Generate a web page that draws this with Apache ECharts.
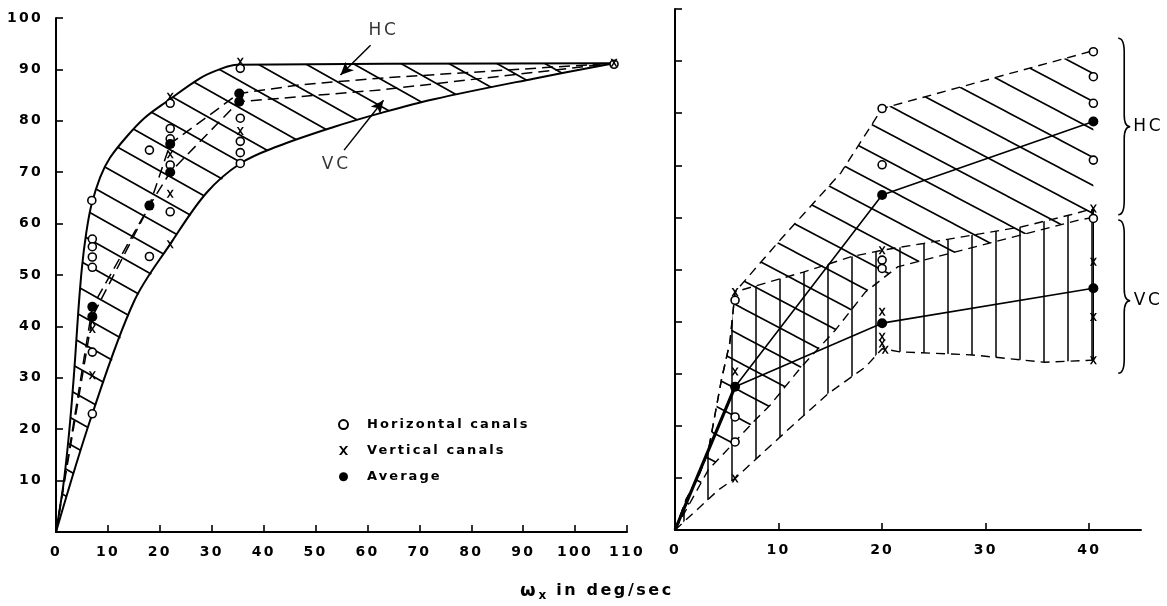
<!DOCTYPE html>
<html><head><meta charset="utf-8">
<script src="https://cdn.jsdelivr.net/npm/echarts@6/dist/echarts.min.js"></script>
<style>html,body{margin:0;padding:0;background:#fff}#c{width:1167px;height:606px}</style>
</head><body><div id="c"></div>
<script>
// ---------- LEFT PANEL DATA (x: omega deg/sec, y: percent) ----------
var leftUpper = [[0,0],[1.4,9],[2.4,18],[3.1,26],[3.7,34],[4.3,43],[5,51.5],[5.8,58],[6.8,63.5],[8.5,69],[10.4,72.8],[13.6,76.9],[17,80.5],[21.4,83.8],[27.8,88.3],[31.5,90],[34.9,90.9],[107.5,91.2]];
var leftLower = [[0,0],[7,23],[15,44.8],[22,56],[29,66],[35.5,71.7],[42.6,75],[53.5,78.8],[62.5,81.5],[72.8,84.2],[92,88.2],[107.5,91.2]];
var leftDashHC = [[0,0],[7,43.8],[18,63.5],[22,75.5],[35.2,85.3],[47,87],[62.5,88.3],[107.5,91.2]];
var leftDashVC = [[0,0],[7,41.9],[18,63.5],[22,70],[35.2,83.7],[47,84.7],[62.5,86],[107.5,91.2]];
var leftHC = [[6.9,64.5],[7,57],[7,55.5],[7,53.5],[7,51.5],[7,35],[7,23],[18,74.3],[18,53.6],[22,83.4],[22,78.5],[22,76.5],[22,71.4],[22,62.3],[35.5,90.2],[35.5,80.5],[35.5,76],[35.5,73.8],[35.5,71.7],[107.5,91]];
var leftVC = [[7,41],[7,39.5],[7,30.5],[18,63.5],[22,84.7],[22,75.5],[22,73.5],[22,65.8],[22,56],[35.5,91.5],[35.5,84],[35.5,78],[107.5,91.3]];
var leftAvg = [[7,43.8],[7,41.9],[18,63.5],[22,70],[22,75.5],[35.3,85.3],[35.3,83.7]];
var leftArrowHC = [[60.6,94.7],[54.8,88.9]];
var leftArrowVC = [[55.5,74.3],[63.1,84]];
var leftNotes = [[63.1,97.5,'HC'],[54,71.4,'VC']];

// ---------- RIGHT PANEL DATA ----------
var rightXTicks = [0,10,20,30,40];
var rightHCUpper = [[0,0],[1.1,6],[2.2,10],[3.2,15],[4.5,29],[5.3,36],[5.8,45.7],[10.3,56],[16,68.5],[20,80.9],[40.4,92]];
var rightHCLower = [[0,0],[3.2,11.5],[7.7,21],[9.2,24],[12.2,31.3],[15.5,38.4],[18.4,45.7],[21.5,50.5],[39,59.5],[40.4,60]];
var rightVCUpper = [[0,0],[1.1,6],[2.2,10],[3.2,15],[4.5,29],[5.3,36],[5.8,45.7],[12.4,49.5],[17.1,52.5],[20,53.7],[24,55],[28.7,56.6],[33.5,58.2],[38.2,60.5],[40.4,61.7]];
var rightVCLower = [[0,0],[4.2,7.7],[5.8,9.9],[7.7,13.4],[11.6,20.5],[14.8,26.2],[18.4,31.3],[20,34.8],[21.7,34.2],[28.7,33.6],[35.7,32.2],[40.4,32.6]];
var rightVCEdge = [[40.4,61.7],[40.4,32.6]];
var rightHC = [[5.8,44.1],[5.8,21.7],[5.8,16.9],[20,80.9],[20,70.1],[20,51.8],[20,50.2],[40.4,91.8],[40.4,87],[40.4,81.9],[40.4,71],[40.4,59.8]];
var rightVC = [[5.8,45.7],[5.8,30.4],[5.8,9.9],[20,53.7],[20,41.9],[20,37.1],[20,35.8],[20.3,34.6],[40.4,61.7],[40.4,51.5],[40.4,40.9],[40.4,32.6]];
var rightAvg = [[5.8,27.5],[20,64.3],[20,39.7],[40.4,78.4],[40.4,46.4]];
var rightAvgHC = [[0,0],[5.8,27.5],[20,64.3],[40.4,78.4]];
var rightAvgVC = [[0,0],[5.8,27.5],[20,39.7],[40.4,46.4]];
var rightShared = [[0,0],[5.8,27.5]];
var braceNames = ['HC','VC'];
var braceTop = [94.4,59.5];
var braceBottom = [60.5,30.1];
var braceTip = [77.4,44];
var braceX = 42.8;

// ---------- text letter spacing (rendering tweak only) ----------
(function(){
  var P = window.CanvasRenderingContext2D && CanvasRenderingContext2D.prototype;
  if(!P || !('letterSpacing' in P)) return;
  function ls(ctx){ var m=/(\d+(?:\.\d+)?)px/.exec(ctx.font); var s=m?parseFloat(m[1]):12; ctx.letterSpacing=(s*0.16).toFixed(2)+'px'; }
  var f=P.fillText, m=P.measureText, st=P.strokeText;
  P.fillText=function(){ls(this); return f.apply(this,arguments);};
  P.strokeText=function(){ls(this); return st.apply(this,arguments);};
  P.measureText=function(){ls(this); return m.apply(this,arguments);};
})();

var FONT = "'DejaVu Sans', sans-serif";
function makeHatch(w,h,lw,vertical){
  var c=document.createElement('canvas'); c.width=w; c.height=h;
  var g=c.getContext('2d'); g.strokeStyle='#000'; g.lineWidth=lw; g.beginPath();
  if(vertical){ g.moveTo(w/2,0); g.lineTo(w/2,h); }
  else { for(var i=-1;i<=1;i++) for(var j=-1;j<=1;j++){ g.moveTo(i*w,j*h); g.lineTo(i*w+w,j*h+h);} }
  g.stroke(); return c;
}
var hatchLeft = makeHatch(48,27,1.7,false);
var hatchRight = makeHatch(53,28,1.6,false);
var hatchVert = makeHatch(24,10,1.5,true);

function region(grid, upper, lower, img){
  return {type:'custom', xAxisIndex:grid, yAxisIndex:grid, silent:true, z:1, data:[[0,0]],
    renderItem:function(p, api){
      var pts = upper.concat(lower.slice().reverse()).map(function(d){return api.coord(d);});
      return {type:'polygon', shape:{points:pts}, style:{fill:{image:img, repeat:'repeat'}, stroke:null}};
    }};
}
function line(grid, data, width, dash, smooth){
  return {type:'line', xAxisIndex:grid, yAxisIndex:grid, data:data, symbol:'none', silent:true, z:3,
    smooth:smooth||false, lineStyle:{color:'#000', width:width, type:dash||'solid'}};
}
var XSYM = 'path://M0,0L3,0L6,4L9,0L12,0L7.5,6L12,12L9,12L6,8L3,12L0,12L4.5,6Z';
function scat(grid, name, data, kind){
  var s = {type:'scatter', name:name, xAxisIndex:grid, yAxisIndex:grid, data:data, silent:true, z:5};
  if(kind==='o'){ s.symbol='circle'; s.symbolSize=8; s.itemStyle={color:'#fff', borderColor:'#000', borderWidth:1.6, opacity:1}; }
  else if(kind==='x'){ s.symbol=XSYM; s.symbolSize=[7,8]; s.itemStyle={color:'#000', opacity:1}; }
  else { s.symbol='circle'; s.symbolSize=10; s.itemStyle={color:'#000', opacity:1}; }
  return s;
}
var tickLbl = {color:'#000', fontFamily:FONT, fontWeight:'bold', fontSize:14};
function axisCommon(){
  return {axisLine:{lineStyle:{color:'#000', width:2}}, axisTick:{inside:true, length:7, lineStyle:{color:'#000', width:1.6}}, splitLine:{show:false}};
}

var xL = Object.assign(axisCommon(), {gridIndex:0, type:'value', min:0, max:110, interval:10,
  axisLabel:Object.assign({margin:12}, tickLbl)});
var yL = Object.assign(axisCommon(), {gridIndex:0, type:'value', min:0, max:100, interval:10,
  axisLabel:Object.assign({margin:13, formatter:function(v){return v===0?'':String(v);}}, tickLbl)});
var xR = Object.assign(axisCommon(), {gridIndex:1, type:'value', min:0, max:45,
  axisLabel:Object.assign({margin:12, customValues:rightXTicks}, tickLbl)});
xR.axisTick.customValues = rightXTicks;
var yR = Object.assign(axisCommon(), {gridIndex:1, type:'value', min:0, max:100, interval:10, axisLabel:{show:false}});

var dashL = [11,6], dashR = [9,6];
var series = [
  region(0, leftUpper, leftLower, hatchLeft),
  line(0, leftUpper, 2, 'solid', 0.35),
  line(0, leftLower, 2, 'solid', 0.35),
  Object.assign(line(0, leftDashHC, 1.5, dashL), {markLine:{silent:true, symbol:['none','arrow'], symbolSize:[9,13],
    lineStyle:{color:'#000', width:1.5, type:'solid'}, label:{show:false},
    data:[[{coord:leftArrowHC[0]},{coord:leftArrowHC[1]}],[{coord:leftArrowVC[0]},{coord:leftArrowVC[1]}]]}}),
  line(0, leftDashVC, 1.5, dashL),
  scat(0, 'Horizontal canals', leftHC, 'o'),
  scat(0, 'Vertical canals', leftVC, 'x'),
  scat(0, 'Average', leftAvg, 'd'),
  {type:'scatter', xAxisIndex:0, yAxisIndex:0, data:leftNotes, symbol:'circle', symbolSize:1, silent:true, z:6,
    itemStyle:{color:'rgba(0,0,0,0)'},
    label:{show:true, position:'inside', formatter:function(p){return p.value[2];}, color:'#000', fontFamily:FONT, fontSize:17}},

  region(1, rightHCUpper, rightHCLower, hatchRight),
  region(1, rightVCUpper, rightVCLower, hatchVert),
  line(1, rightHCUpper, 1.4, dashR),
  line(1, rightHCLower, 1.4, dashR),
  line(1, rightVCUpper, 1.4, dashR),
  line(1, rightVCLower, 1.4, dashR),
  line(1, rightVCEdge, 1.3),
  line(1, rightAvgHC, 1.6),
  line(1, rightAvgVC, 1.6),
  line(1, rightShared, 3.2),
  scat(1, 'Horizontal canals', rightHC, 'o'),
  scat(1, 'Vertical canals', rightVC, 'x'),
  scat(1, 'Average', rightAvg, 'd'),
  {type:'custom', xAxisIndex:1, yAxisIndex:1, silent:true, clip:false, z:6,
    data: braceNames.map(function(n,i){return [braceX, braceTop[i], braceBottom[i], braceTip[i]];}),
    renderItem:function(p, api){
      var i=p.dataIndex;
      var t=api.coord([api.value(0), api.value(1)]), b=api.coord([api.value(0), api.value(2)]), m=api.coord([api.value(0), api.value(3)]);
      var x=t[0], w=6;
      var d='M'+x+','+t[1]+' Q'+(x+w)+','+t[1]+' '+(x+w)+','+(t[1]+14)+' L'+(x+w)+','+(m[1]-12)+' Q'+(x+w)+','+m[1]+' '+(x+2*w)+','+m[1]+
        ' Q'+(x+w)+','+m[1]+' '+(x+w)+','+(m[1]+12)+' L'+(x+w)+','+(b[1]-14)+' Q'+(x+w)+','+b[1]+' '+x+','+b[1];
      return {type:'group', children:[
        {type:'path', shape:{pathData:d}, style:{stroke:'#000', fill:null, lineWidth:1.6}},
        {type:'text', x:x+30, y:m[1], style:{text:braceNames[i], fill:'#000', fontFamily:FONT, fontSize:17, align:'center', verticalAlign:'middle', textAlign:'center', textVerticalAlign:'middle'}}
      ]};
    }}
];

var chart = echarts.init(document.getElementById('c'), null, {renderer:'canvas'});
chart.setOption({
  animation:false,
  backgroundColor:'#fff',
  title:{text:'{w|ω}{s|x} in deg/sec', left:520, top:579, padding:0,
    textStyle:{fontFamily:FONT, fontWeight:'bold', fontSize:16, color:'#000',
      rich:{w:{fontFamily:FONT, fontWeight:'bold', fontSize:18, color:'#000'},
            s:{fontFamily:FONT, fontWeight:'bold', fontSize:12, color:'#000', padding:[10,0,0,0]}}}},
  legend:{data:['Horizontal canals','Vertical canals','Average'], orient:'vertical', left:333, top:412,
    itemWidth:9, itemHeight:9, itemGap:11, selectedMode:false,
    textStyle:{fontFamily:FONT, fontWeight:'bold', fontSize:13, color:'#000', padding:[0,0,0,14]}},
  grid:[{left:56, top:18, width:571, height:514}, {left:675, top:9, width:466, height:521}],
  xAxis:[xL, xR], yAxis:[yL, yR],
  series:series
});
</script></body></html>
